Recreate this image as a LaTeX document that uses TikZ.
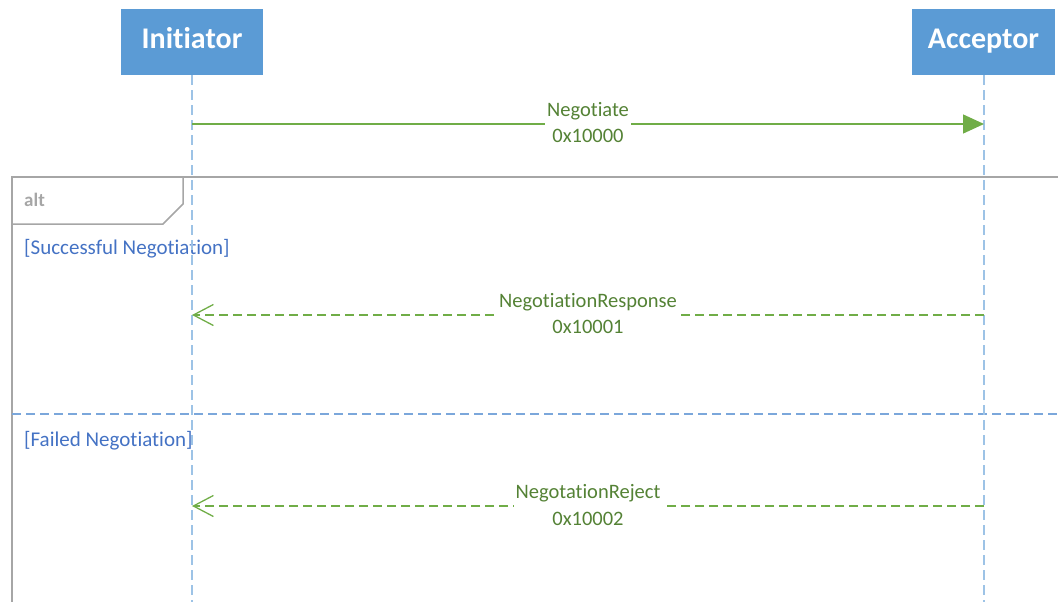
\documentclass[tikz,border=0pt]{standalone}
\usepackage{fontspec}
\setmainfont{Carlito}[Ligatures=NoCommon]
\usetikzlibrary{arrows.meta}
\definecolor{hdr}{HTML}{5B9BD5}
\definecolor{life}{HTML}{9DC3E6}
\definecolor{msg}{HTML}{70AD47}
\definecolor{msgtxt}{HTML}{548235}
\definecolor{guard}{HTML}{4472C4}
\definecolor{frm}{HTML}{A6A6A6}
\definecolor{sep}{HTML}{7BA7DB}
\tikzset{
  header/.style={fill=hdr, text=white, minimum width=142pt, minimum height=66pt, inner sep=0pt,
    text height=19pt, text depth=6pt,
    font=\fontsize{30}{34}\selectfont\bfseries},
  lifeline/.style={draw=life, line width=1.2pt, dash pattern=on 10pt off 5pt},
  callmsg/.style={draw=msg, line width=1.3pt, -{Triangle[length=21pt,width=19pt]}},
  retmsg/.style={draw=msg, line width=1.3pt, dash pattern=on 9pt off 5pt,
    -{Straight Barb[length=20pt,width=21pt]}},
  msglabel/.style={fill=white, text=msgtxt, align=center, inner xsep=2pt, inner ysep=0pt,
    font=\fontsize{20.5}{26.5}\selectfont},
  guardtext/.style={text=guard, anchor=west, inner sep=0pt, font=\fontsize{21}{24}\selectfont},
  framebox/.style={draw=frm, line width=1.5pt},
  alttext/.style={text=frm, anchor=west, inner sep=0pt, font=\fontsize{19}{22}\selectfont\bfseries},
  separator/.style={draw=sep, line width=1.2pt, dash pattern=on 9pt off 5pt}
}
\begin{document}
\begin{tikzpicture}[x=1pt,y=-1pt]
\useasboundingbox (0,0) rectangle (1058,602);
% frame
\coordinate (fTL) at (12,177);
\coordinate (fTR) at (1062,177);
\coordinate (fBL) at (12,606);
\draw[framebox] (fBL) -- (fTL) -- (fTR);
\coordinate (tab1) at (183,177);
\coordinate (tab2) at (183,204);
\coordinate (tab3) at (163,224);
\coordinate (tab4) at (12,224);
\draw[framebox, line join=miter] (tab1) -- (tab2) -- (tab3) -- (tab4);
\node[alttext] (alt) at (24,200) {alt};
% separator
\coordinate (sepL) at (12,414);
\coordinate (sepR) at (1062,414);
\draw[separator] (sepL) -- (sepR);
\node[guardtext] (g1) at (24,248.5) {[Successful Negotiation]};
\node[guardtext] (g2) at (24,440.5) {[Failed Negotiation]};
% headers
\node[header] (init) at (192,42) {Initiator};
\node[header, minimum width=143pt] (acc) at (983.5,42) {Acceptor};
\coordinate (initEnd) at (192,604);
\coordinate (accEnd) at (984,604);
\draw[lifeline] (init.south) -- (initEnd);
\draw[lifeline] (acc.south -| accEnd) -- (accEnd);
% messages
\coordinate (i1) at (192,124);
\coordinate (a1) at (984,124);
\coordinate (i2) at (192,315);
\coordinate (a2) at (984,315);
\coordinate (i3) at (192,506);
\coordinate (a3) at (984,506);
\draw[callmsg] (i1) -- (a1);
\node[msglabel] (m1) at (588,122.5) {Negotiate\\0x10000};
\draw[retmsg] (a2) -- (i2);
\node[msglabel] (m2) at (588,313.5) {NegotiationResponse\\0x10001};
\draw[retmsg] (a3) -- (i3);
\node[msglabel] (m3) at (588,505) {NegotationReject\\0x10002};
\end{tikzpicture}
\end{document}
